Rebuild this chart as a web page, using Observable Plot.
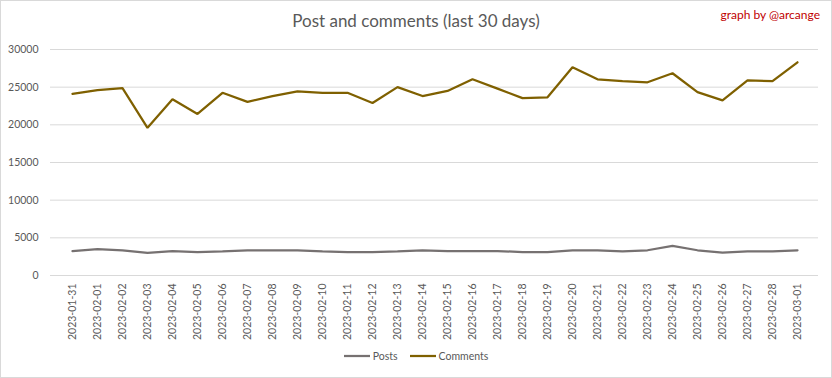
<!DOCTYPE html>
<html>
<head>
<meta charset="utf-8">
<script src="https://cdn.jsdelivr.net/npm/d3@7"></script>
<script src="https://cdn.jsdelivr.net/npm/@observablehq/plot@0.6"></script>
<style>
  html, body { margin: 0; padding: 0; background: #fff; }
  #wrap { position: relative; width: 832px; height: 378px; overflow: hidden; font-family: Lato, "Open Sans", sans-serif; }
  #frame { position: absolute; left: 0; top: 0; width: 832px; height: 378px; box-sizing: border-box; border: 1px solid #d9d9d9; pointer-events: none; }
  #title { position: absolute; left: 0; width: 832px; top: 10px; text-align: center; font-size: 17px; color: #595959; }
  #credit { position: absolute; right: 12px; top: 7px; font-size: 12px; color: #c00000; }
  #legend { position: absolute; top: 350px; left: 0; width: 832px; text-align: center; font-size: 10.5px; color: #595959; }
  #legend span.item { display: inline-flex; align-items: center; margin: 0 6px; }
  #legend svg { margin-right: 3px; }
  #chart { position: absolute; left: 0; top: 0; }
</style>
</head>
<body>
<div id="wrap">
  <div id="chart"></div>
  <div id="title">Post and comments (last 30 days)</div>
  <div id="credit">graph by @arcange</div>
  <div id="legend"></div>
  <div id="frame"></div>
</div>
<script>
const dates = ["2023-01-31","2023-02-01","2023-02-02","2023-02-03","2023-02-04","2023-02-05","2023-02-06","2023-02-07","2023-02-08","2023-02-09","2023-02-10","2023-02-11","2023-02-12","2023-02-13","2023-02-14","2023-02-15","2023-02-16","2023-02-17","2023-02-18","2023-02-19","2023-02-20","2023-02-21","2023-02-22","2023-02-23","2023-02-24","2023-02-25","2023-02-26","2023-02-27","2023-02-28","2023-03-01"];
const posts = [3230,3500,3350,3000,3250,3100,3200,3350,3350,3350,3200,3100,3100,3200,3350,3250,3250,3250,3100,3100,3350,3350,3200,3350,3930,3350,3050,3200,3200,3350];
const comments = [24100,24600,24860,19600,23400,21450,24250,23050,23800,24450,24250,24250,22900,25000,23820,24500,26050,24800,23550,23650,27650,26050,25800,25650,26850,24350,23250,25900,25800,28300];
const seriesNames = ["Posts","Comments"];
const seriesColors = ["#767171","#7f6000"];
const yTicks = [0,5000,10000,15000,20000,25000,30000];

const data = [];
dates.forEach((d,i) => {
  data.push({date: d, series: "Posts", value: posts[i]});
  data.push({date: d, series: "Comments", value: comments[i]});
});

const chart = Plot.plot({
  width: 832,
  height: 378,
  marginLeft: 50,
  marginRight: 14,
  marginTop: 49,
  marginBottom: 103,
  style: { fontFamily: "Lato, 'Open Sans', sans-serif", fontSize: "10.5px", color: "#595959", background: "transparent", overflow: "visible" },
  x: { type: "point", domain: dates, padding: 0.5, label: null },
  y: { domain: [0, 30000], label: null },
  color: { domain: seriesNames, range: seriesColors },
  marks: [
    Plot.gridY(yTicks, { stroke: "#d9d9d9", strokeOpacity: 1, strokeWidth: 1 }),
    Plot.axisY(yTicks, { tickSize: 0, tickPadding: 12, tickFormat: d => String(d), fill: "#595959" }),
    Plot.axisX({ tickSize: 0, tickPadding: 8, tickRotate: -90, fill: "#595959" }),
    Plot.line(data, { x: "date", y: "value", z: "series", stroke: "series", strokeWidth: 2.25, strokeLinejoin: "miter" })
  ]
});
document.getElementById("chart").appendChild(chart);

const legend = document.getElementById("legend");
seriesNames.forEach((name, i) => {
  const item = document.createElement("span");
  item.className = "item";
  item.innerHTML = `<svg width="26" height="8"><line x1="0" x2="26" y1="4" y2="4" stroke="${seriesColors[i]}" stroke-width="2.25"/></svg>${name}`;
  legend.appendChild(item);
});
</script>
</body>
</html>
